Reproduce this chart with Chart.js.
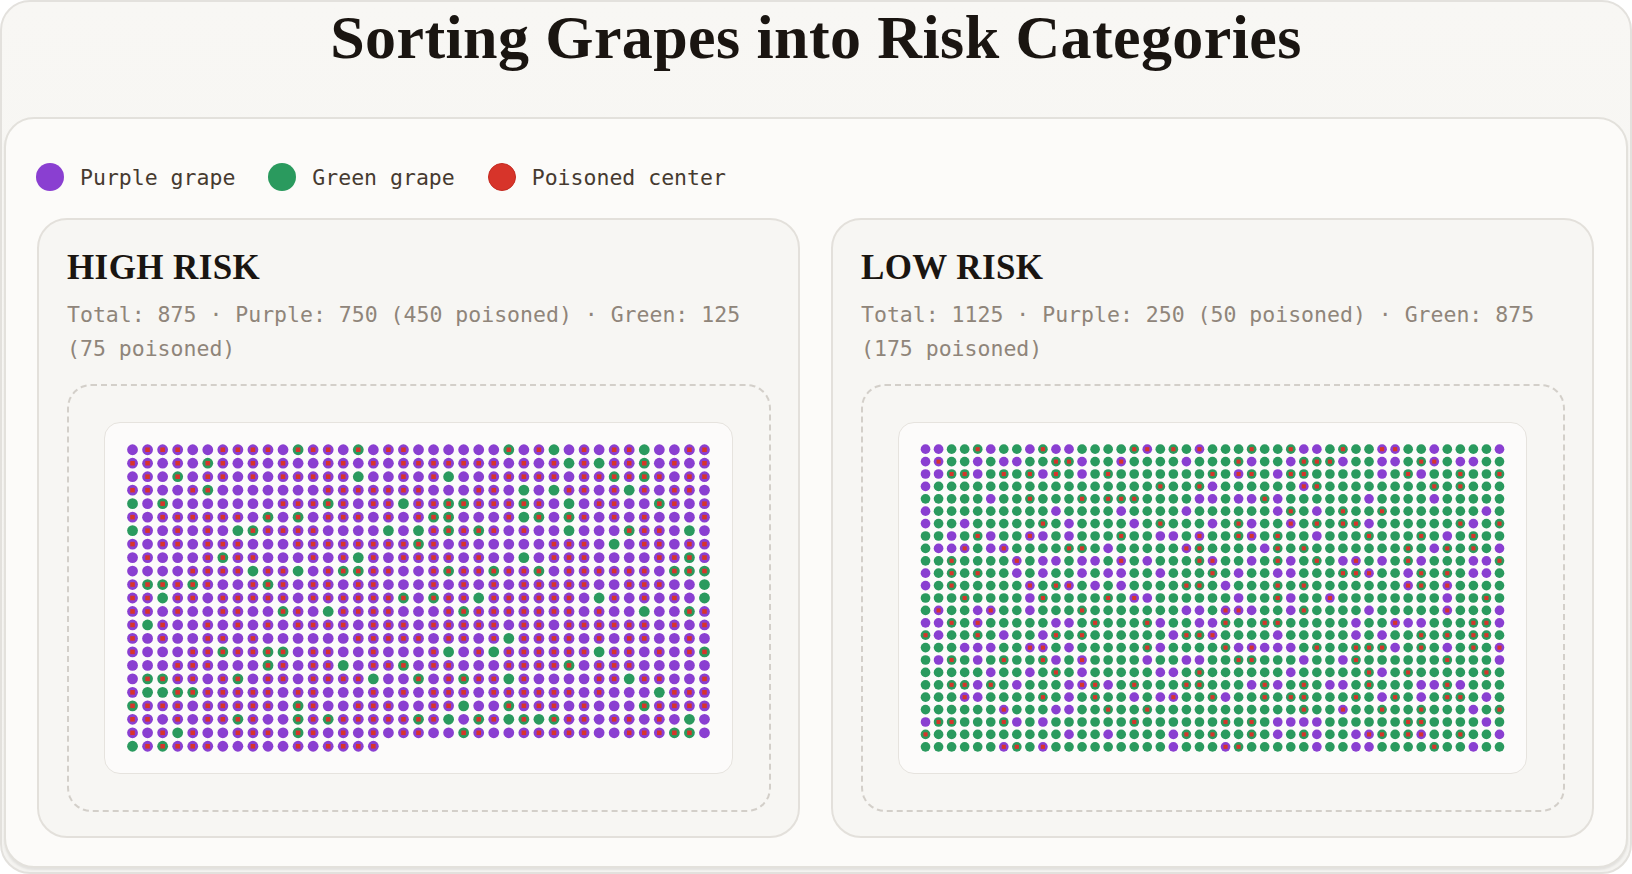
<!DOCTYPE html>
<html>
<head>
<meta charset="utf-8">
<script src="https://cdn.jsdelivr.net/npm/chart.js@4.4.1/dist/chart.umd.min.js"></script>
<style>
  html, body { margin:0; padding:0; background:#ffffff; }
  body { width:1632px; height:874px; overflow:hidden; position:relative; }
  .outer { position:absolute; left:0; top:0; width:1632px; height:874px; box-sizing:border-box;
    border:2px solid #e3e1dd; border-radius:30px; background:linear-gradient(#f8f7f4, #f4f3f0); }
  .title { position:absolute; left:0; top:6px; width:1632px; text-align:center; margin:0;
    font-family:"Liberation Serif", "DejaVu Serif", serif; font-weight:700; font-size:62px; line-height:1;
    color:#1a1511; letter-spacing:0.4px; }
  .inner { position:absolute; left:4px; top:117px; width:1624px; height:751px; box-sizing:border-box;
    border:2px solid #e3e1dc; border-radius:30px; background:#fcfbf9; box-shadow:0 2px 2px rgba(0,0,0,0.07); }
  .legend { position:absolute; left:36px; top:163px; height:28px; display:flex; align-items:center;
    font-family:"DejaVu Sans Mono", monospace; font-size:21.5px; color:#463a30; }
  .legend .item { display:flex; align-items:center; margin-right:33px; }
  .legend .sw { width:28px; height:28px; border-radius:50%; margin-right:16px; box-sizing:border-box; }
  .panel { position:absolute; top:218px; width:763px; height:620px; box-sizing:border-box;
    border:2px solid #e3e0db; border-radius:30px; background:#f7f6f3; }
  .panel h2 { position:absolute; left:28px; top:30px; margin:0; font-family:"Liberation Serif", serif;
    font-weight:700; font-size:35px; line-height:1; color:#1a1511; letter-spacing:0.4px; }
  .panel .stats { position:absolute; left:28px; top:78px; width:705px; margin:0;
    font-family:"DejaVu Sans Mono", monospace; font-size:21.5px; line-height:34px; color:#8f857a; }
  .dashed { position:absolute; left:28px; top:164px; width:704px; height:428px; box-sizing:border-box;
    border:2px dashed #d3cfc9; border-radius:24px; }
  .plot { position:absolute; left:35px; top:36px; width:629px; height:352px; box-sizing:border-box;
    border:1.5px solid #e6e3de; border-radius:16px; background:#fcfbfa; padding:16px; }
  .plot .cw { position:relative; width:100%; height:100%; }
</style>
</head>
<body>
<div class="outer"></div>
<h1 class="title">Sorting Grapes into Risk Categories</h1>
<div class="inner"></div>
<div class="legend" id="legend"></div>
<div id="panels"></div>

<script>
// ---- data ----
const categories = ['HIGH RISK', 'LOW RISK'];
const purpleTotal = [750, 250];
const purplePoisoned = [450, 50];
const greenTotal = [125, 875];
const greenPoisoned = [75, 175];
const gridColumns = [39, 45];
const seriesNames = ['Purple grape', 'Green grape', 'Poisoned center'];
const seriesColors = ['#8a3fd1', '#2a9a5e', '#d7342a'];

// legend
const legendEl = document.getElementById('legend');
seriesNames.forEach((name, i) => {
  const it = document.createElement('div');
  it.className = 'item';
  const sw = document.createElement('span');
  sw.className = 'sw';
  sw.style.background = seriesColors[i];
  if (i === 2) sw.style.border = '1.5px solid #c42b22';
  const tx = document.createElement('span');
  tx.textContent = name;
  it.appendChild(sw); it.appendChild(tx);
  legendEl.appendChild(it);
});

// deterministic mixing order (layout only)
function mix(i, seed) {
  let h = (Math.imul(i + 1, 0x9E3779B1) ^ seed) >>> 0;
  h ^= h >>> 16; h = Math.imul(h, 0x85ebca6b);
  h ^= h >>> 13; h = Math.imul(h, 0xc2b2ae35);
  h ^= h >>> 16;
  return h >>> 0;
}

const panelsEl = document.getElementById('panels');
const panelLeft = [37, 831];
const dotFactor = [0.40, 0.39];
const centerFactor = [0.24, 0.235];

categories.forEach((cat, p) => {
  const total = purpleTotal[p] + greenTotal[p];
  const panel = document.createElement('div');
  panel.className = 'panel';
  panel.style.left = panelLeft[p] + 'px';
  panel.innerHTML =
    '<h2>' + cat + '</h2>' +
    '<p class="stats">Total: ' + total + ' · Purple: ' + purpleTotal[p] + ' (' + purplePoisoned[p] +
    ' poisoned) · Green: ' + greenTotal[p] + ' (' + greenPoisoned[p] + ' poisoned)</p>' +
    '<div class="dashed"><div class="plot"><div class="cw"><canvas></canvas></div></div></div>';
  panelsEl.appendChild(panel);

  const grapes = [];
  for (let i = 0; i < purpleTotal[p]; i++) grapes.push({ kind: 0, poison: i < purplePoisoned[p] });
  for (let i = 0; i < greenTotal[p]; i++) grapes.push({ kind: 1, poison: i < greenPoisoned[p] });
  const seed = 7919 + p * 104729;
  const order = grapes.map((g, i) => i).sort((a, b) => mix(a, seed) - mix(b, seed));

  const cols = gridColumns[p];
  const rows = Math.ceil(total / cols);
  const purplePts = [], greenPts = [], poisonPts = [];
  order.forEach((gi, k) => {
    const pt = { x: k % cols, y: Math.floor(k / cols) };
    const g = grapes[gi];
    (g.kind === 0 ? purplePts : greenPts).push(pt);
    if (g.poison) poisonPts.push(pt);
  });

  const cellR = (ctx, f) => {
    const a = ctx.chart.chartArea;
    if (!a) return 4;
    return Math.min(a.width / cols, a.height / rows) * f;
  };
  const dR = c => cellR(c, dotFactor[p]);
  const cR = c => cellR(c, centerFactor[p]);

  new Chart(panel.querySelector('canvas'), {
    type: 'scatter',
    data: {
      datasets: [
        { label: seriesNames[2], data: poisonPts, backgroundColor: seriesColors[2], pointStyle: 'rect',
          pointRadius: cR, pointHoverRadius: cR, borderWidth: 0, order: 0 },
        { label: seriesNames[0], data: purplePts, backgroundColor: seriesColors[0],
          pointRadius: dR, pointHoverRadius: dR, borderWidth: 0, order: 1 },
        { label: seriesNames[1], data: greenPts, backgroundColor: seriesColors[1],
          pointRadius: dR, pointHoverRadius: dR, borderWidth: 0, order: 1 }
      ]
    },
    options: {
      responsive: true, maintainAspectRatio: false, animation: false,
      layout: { padding: 0 },
      plugins: { legend: { display: false }, tooltip: { enabled: false } },
      scales: {
        x: { type: 'linear', min: -0.5, max: cols - 0.5, display: false },
        y: { type: 'linear', min: -0.5, max: rows - 0.5, reverse: true, display: false }
      }
    }
  });
});
</script>
</body>
</html>
